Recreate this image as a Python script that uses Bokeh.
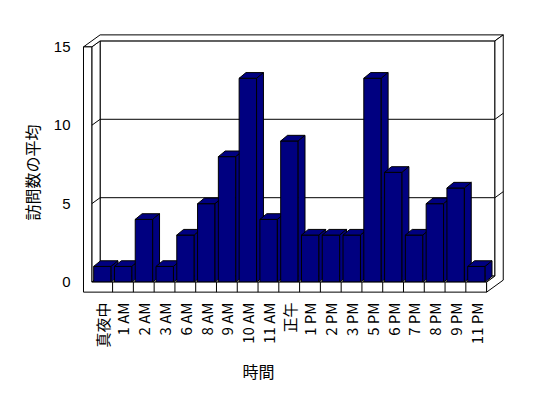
import math
from bokeh.plotting import figure
from bokeh.models import FixedTicker, LinearAxis, Title, Range1d
from bokeh.embed import file_html
from bokeh.resources import INLINE

# ---- data ----
categories = ["真夜中", "1 AM", "2 AM", "3 AM", "6 AM", "8 AM", "9 AM", "10 AM", "11 AM", "正午",
              "1 PM", "2 PM", "3 PM", "5 PM", "6 PM", "7 PM", "8 PM", "9 PM", "11 PM"]
visits = [1, 1, 4, 1, 3, 5, 8, 13, 4, 9, 3, 3, 3, 13, 7, 3, 5, 6, 1]
y_ticks = [0, 5, 10, 15]
y_title = "訪問数の平均"
x_title = "時間"

# ---- 3D styling parameters (in axis units) ----
N = len(categories)
YMAX = y_ticks[-1]
DX, DY = 0.40, 0.383      # depth of walls / floor
BDX, BDY = 0.33, 0.36     # depth of bars
FT = 0.64                 # floor slab thickness
GAP_L, GAP_R = 0.09, 0.07
X0, X1 = -0.5, N - 0.5
BAR = "#000080"

p = figure(width=540, height=390, output_backend="svg", toolbar_location=None,
           x_range=Range1d(-1.044, 19.457), y_range=Range1d(-0.791, 16.173),
           min_border_left=80, min_border_right=34, min_border_top=28, min_border_bottom=96,
           x_axis_type=None, y_axis_type=None)
p.outline_line_color = None
p.background_fill_color = "white"
p.border_fill_color = "white"

# back wall, left wall inner face, floor top
p.patches(
    [[X0 + DX, X1 + DX, X1 + DX, X0 + DX],
     [X0, X0 + DX, X0 + DX, X0],
     [X0, X1, X1 + DX, X0 + DX]],
    [[DY, DY, YMAX + DY, YMAX + DY],
     [0, DY, YMAX + DY, YMAX],
     [0, 0, DY, DY]],
    fill_color="white", line_color="black", line_width=1)

# gridlines
gx, gy = [], []
for v in y_ticks[1:-1]:
    gx += [[X0 + DX, X1 + DX], [X0, X0 + DX], [X0 - DX, X0]]
    gy += [[v + DY, v + DY], [v, v + DY], [v, v]]
p.multi_line(gx, gy, line_color="black", line_width=1)

# bars
bxs, bys = [], []
for i, v in enumerate(visits):
    L = i - 0.5 + GAP_L
    R = i + 0.5 - GAP_R
    bxs += [[L, R, R, L],
            [L, R, R + BDX, L + BDX],
            [R, R + BDX, R + BDX, R]]
    bys += [[0, 0, v, v],
            [v, v, v + BDY, v + BDY],
            [0, BDY, v + BDY, v]]
p.patches(bxs, bys, fill_color=BAR, line_color="black", line_width=1)

# front structures: top face, front L face, right side
p.patches(
    [[X0 - DX, X0, X0 + DX, X1 + DX, X1 + 2 * DX, X0 + DX],
     [X0 - DX, X1, X1, X0, X0, X0 - DX],
     [X1, X1 + 2 * DX, X1 + 2 * DX, X1 + DX, X1 + DX, X1]],
    [[YMAX, YMAX, YMAX + DY, YMAX + DY, YMAX + 2 * DY, YMAX + 2 * DY],
     [-FT, -FT, 0, 0, YMAX, YMAX],
     [-FT, -FT + 2 * DY, YMAX + 2 * DY, YMAX + DY, DY, 0]],
    fill_color="white", line_color="black", line_width=1)

# right-face gridline continuation and floor front dividers
rx, ry = [], []
for v in y_ticks[1:-1]:
    rx.append([X1 + DX, X1 + 2 * DX])
    ry.append([v + DY, v + 2 * DY])
for k in range(1, N):
    rx.append([X0 + k, X0 + k])
    ry.append([-FT, 0])
p.multi_line(rx, ry, line_color="black", line_width=1)

# axes
yaxis = LinearAxis(ticker=FixedTicker(ticks=y_ticks),
                   axis_line_color=None, major_tick_line_color=None, minor_tick_line_color=None,
                   major_label_standoff=4, major_label_text_font="Liberation Sans",
                   major_label_text_font_size="15px", major_label_text_color="black")
p.add_layout(yaxis, "left")

xaxis = LinearAxis(ticker=FixedTicker(ticks=list(range(N))),
                   major_label_overrides={i: c for i, c in enumerate(categories)},
                   major_label_orientation=math.pi / 2,
                   axis_line_color=None, major_tick_line_color=None, minor_tick_line_color=None,
                   major_label_standoff=2, major_label_text_font="Noto Sans CJK JP",
                   major_label_text_font_size="15px", major_label_text_color="black")
p.add_layout(xaxis, "below")

# axis titles
p.add_layout(Title(text=y_title, align="left", offset=74, standoff=14,
                   text_font="Noto Sans CJK JP", text_font_size="16px",
                   text_font_style="normal", text_color="black"), "left")
p.add_layout(Title(text=x_title, align="left", offset=162, standoff=12,
                   text_font="Noto Sans CJK JP", text_font_size="16px",
                   text_font_style="normal", text_color="black"), "below")

open("out.html", "w").write(file_html(p, INLINE))
